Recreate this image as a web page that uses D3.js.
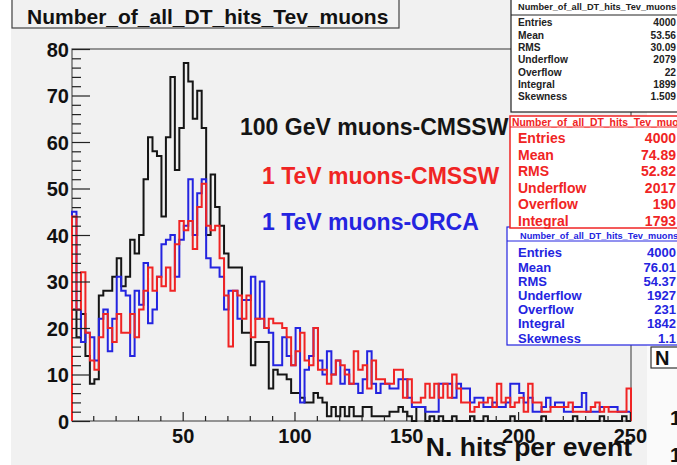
<!DOCTYPE html>
<html>
<head>
<meta charset="utf-8">
<script src="https://cdn.jsdelivr.net/npm/d3@7"></script>
<style>
  body { margin: 0; background: #fff; }
  svg { display: block; font-family: "Liberation Sans", Arial, sans-serif; font-weight: bold; }
</style>
</head>
<body>
<div id="app"></div>
<script>
// histogram: 125 bins of width 2 from 0.5 to 250.5
const binLow = 0.5;
const binWidth = 2;

const countsGeV = [
  24, 18, 23, 14, 8, 9, 27, 28, 28, 31, 35, 29, 31, 39, 36, 40,
  52, 61, 58, 57, 44, 61, 74, 54, 63, 77, 73, 65, 71, 63, 40, 53, 46, 42,
  36, 33, 33, 33, 19, 19, 12, 17, 17, 17, 7, 11, 10, 10, 9, 6, 6, 5, 4, 4, 6, 5, 4,
  1, 3, 1, 3, 1, 3, 1, 1, 3, 3, 1, 1, 1, 1, 2, 2, 3, 2, 1, 0, 3, 3,
  0, 1, 0, 1, 0, 0, 1, 0, 0, 0, 1, 0, 0, 1, 0, 0, 0, 0, 0, 1,
  0, 0, 0, 0, 0, 0, 1, 0, 0, 0, 0, 0, 0, 1, 0, 0, 0, 0, 0, 1,
  0, 0, 0, 0, 1, 0
];

const countsTeV = [
  44, 24, 32, 19, 13, 11, 18, 23, 20, 17, 23, 19, 19, 23, 18, 24, 28, 33,
  28, 31, 29, 33, 28, 38, 43, 41, 43, 37, 46, 51, 42, 41, 42, 35, 27, 16,
  28, 27, 22, 27, 18, 22, 22, 20, 22, 21, 21, 20, 18, 12, 15, 19, 13, 12, 20, 11,
  11, 8, 10, 13, 12, 10, 8, 15, 11, 12, 7, 13, 9, 9, 8, 8, 11, 11, 5, 9,
  4, 4, 5, 8, 5, 8, 5, 8,
  5, 10, 7, 4, 4, 2, 3, 4, 4, 5, 3, 8, 4, 5, 3, 4, 5, 2, 8, 4,
  4, 2, 2, 3, 3, 3, 3, 4, 2, 2, 2, 2, 3, 4, 2, 3, 2, 2, 2, 2, 7
];

const countsOrca = [
  45, 24, 17, 19, 18, 13, 22, 24, 15, 22, 31, 28, 27, 14, 28, 25, 34, 21,
  24, 31, 38, 39, 40, 31, 39, 42, 52, 40, 49, 52,
  35, 33, 33, 31, 24, 28, 28, 22, 26, 26, 31, 22, 30, 20, 19, 12, 12, 18, 14, 12, 20,
  4, 11, 14, 20, 13, 10, 15, 10, 13, 8, 11, 8, 8, 6, 9, 15, 8, 6, 8, 8,
  7, 7, 9, 9, 5, 3, 3, 3, 2, 2, 2, 8, 8,
  8, 5, 8, 7, 7, 4, 5, 5, 3, 3, 4, 3, 3, 4, 8, 8, 6, 4, 5, 2,
  2, 3, 5, 3, 4, 4, 2, 2, 3, 3, 6, 2, 2, 2, 3, 3, 3, 3, 2, 2, 2
];

const xMajorTicks = [50, 100, 150, 200, 250];
const yMajorTicks = [0, 10, 20, 30, 40, 50, 60, 70, 80];

const histTitle = "Number_of_all_DT_hits_Tev_muons";
const xTitle = "N. hits per event";
const legendLabels = ["100 GeV muons-CMSSW", "1 TeV muons-CMSSW", "1 TeV muons-ORCA"];

const statNames = ["Entries", "Mean", "RMS", "Underflow", "Overflow", "Integral", "Skewness"];
const statsGeV = ["4000", "53.56", "30.09", "2079", "22", "1899", "1.509"];
const statsTeV = ["4000", "74.89", "52.82", "2017", "190", "1793"];
const statsOrca = ["4000", "76.01", "54.37", "1927", "231", "1842", "1.1"];

const W = 677, H = 465;
const BLACK = "#151515", RED = "#f02424", BLUE = "#2424e0";

const svg = d3.select("#app").append("svg").attr("width", W).attr("height", H);

// canvas
svg.append("rect").attr("width", W).attr("height", H).attr("fill", "#fff");
svg.append("rect").attr("x", 11).attr("y", 0).attr("width", 636).attr("height", H).attr("fill", "#f1f1f1");

const x = d3.scaleLinear().domain([0.5, 250.5]).range([72, 631]);
const y = d3.scaleLinear().domain([0, 80]).range([421, 49]);

// frame
svg.append("rect")
  .attr("x", x(0.5)).attr("y", y(80))
  .attr("width", x(250.5) - x(0.5)).attr("height", y(0) - y(80))
  .attr("fill", "none").attr("stroke", "#555").attr("stroke-width", 1.2);

// histograms
const stepLine = d3.line().x((d) => x(d[0])).y((d) => y(d[1])).curve(d3.curveStepAfter);
const histPoints = (counts) => {
  const pts = [[binLow, 0]];
  counts.forEach((c, i) => pts.push([binLow + i * binWidth, c]));
  const hi = binLow + counts.length * binWidth;
  pts.push([hi, counts[counts.length - 1]]);
  pts.push([hi, 0]);
  return pts;
};

[[countsGeV, BLACK], [countsOrca, BLUE], [countsTeV, RED]].forEach(([c, col]) => {
  svg.append("path")
    .attr("d", stepLine(histPoints(c)))
    .attr("fill", "none")
    .attr("stroke", col)
    .attr("stroke-width", 2)
    .attr("stroke-linejoin", "miter");
});

// x axis
const xMinor = d3.range(10, 251, 10).filter((v) => v % 50 !== 0);
svg.append("g").attr("transform", `translate(0,${y(0)})`)
  .call(d3.axisBottom(x).tickValues(xMinor).tickSizeInner(-5).tickSizeOuter(0).tickFormat(""));
const xAxisG = svg.append("g").attr("transform", `translate(0,${y(0)})`)
  .call(d3.axisBottom(x).tickValues(xMajorTicks).tickSizeInner(-9).tickSizeOuter(0));
xAxisG.selectAll("text").attr("y", 22).attr("dy", null)
  .attr("font-size", 20).attr("font-family", "Liberation Sans, Arial").attr("font-weight", "bold").attr("fill", "#111");

// y axis
const yMinor = d3.range(2, 80, 2).filter((v) => v % 10 !== 0);
svg.append("g").attr("transform", `translate(${x(0.5)},0)`)
  .call(d3.axisLeft(y).tickValues(yMinor).tickSizeInner(-9).tickSizeOuter(0).tickFormat(""));
const yAxisG = svg.append("g").attr("transform", `translate(${x(0.5)},0)`)
  .call(d3.axisLeft(y).tickValues(yMajorTicks).tickSizeInner(-18).tickSizeOuter(0));
yAxisG.selectAll("text").attr("x", -3).attr("dy", "0.36em")
  .attr("font-size", 20).attr("font-family", "Liberation Sans, Arial").attr("font-weight", "bold").attr("fill", "#111");

svg.selectAll(".domain").remove();
svg.selectAll(".tick line").attr("stroke", "#222").attr("stroke-width", 1.2);

// legend labels
const legendPos = [[240, 135, BLACK], [262, 184, RED], [262, 230, BLUE]];
legendLabels.forEach((t, i) => {
  svg.append("text")
    .attr("x", legendPos[i][0]).attr("y", legendPos[i][1])
    .attr("font-size", 23).attr("fill", legendPos[i][2])
    .text(t);
});

// x title
svg.append("text").attr("x", 632).attr("y", 456).attr("text-anchor", "end")
  .attr("font-size", 26.5).attr("fill", "#111").text(xTitle);

// histogram title box
svg.append("rect").attr("x", 12).attr("y", -2).attr("width", 387).attr("height", 30)
  .attr("fill", "#f1f1f1").attr("stroke", "#444").attr("stroke-width", 1.2);
svg.append("text").attr("x", 27).attr("y", 24).attr("font-size", 21).attr("fill", "#111").text(histTitle);

// stats boxes
const statBox = (o) => {
  svg.append("rect").attr("x", o.x).attr("y", o.y).attr("width", 200).attr("height", o.h)
    .attr("fill", "#fff").attr("stroke", o.col).attr("stroke-width", o.sw);
  svg.append("text").attr("x", o.hx).attr("y", o.y + o.hb).attr("font-size", o.hs)
    .attr("fill", o.col).text(histTitle);
  svg.append("line").attr("x1", o.x).attr("x2", W).attr("y1", o.y + o.hl).attr("y2", o.y + o.hl)
    .attr("stroke", o.col).attr("stroke-width", 1);
  o.vals.forEach((v, i) => {
    const ry = o.r0 + i * o.dr;
    svg.append("text").attr("x", 518).attr("y", ry).attr("dy", "0.36em")
      .attr("font-size", o.fs).attr("fill", o.col).text(statNames[i]);
    svg.append("text").attr("x", 676).attr("y", ry).attr("dy", "0.36em").attr("text-anchor", "end")
      .attr("font-size", o.fs).attr("fill", o.col).text(v);
  });
};

statBox({ x: 511, y: -2, h: 114, col: "#222", sw: 1.2, hx: 518, hb: 12, hs: 9.2, hl: 17,
  r0: 22.7, dr: 12.3, fs: 10.2, vals: statsGeV });
statBox({ x: 507, y: 227, h: 118, col: BLUE, sw: 1.2, hx: 520, hb: 12, hs: 9.2, hl: 14,
  r0: 252.7, dr: 14.2, fs: 13, vals: statsOrca });
statBox({ x: 510, y: 116, h: 112, col: RED, sw: 1.5, hx: 512, hb: 9.5, hs: 10.4, hl: 11,
  r0: 138, dr: 16.6, fs: 14, vals: statsTeV });

// neighbouring pad peeking in at the right
svg.append("rect").attr("x", 647).attr("y", 346).attr("width", 30).attr("height", 119).attr("fill", "#fafafa");
svg.append("rect").attr("x", 651).attr("y", 347).attr("width", 40).attr("height", 21)
  .attr("fill", "#fff").attr("stroke", "#333").attr("stroke-width", 1.2);
svg.append("text").attr("x", 655).attr("y", 365).attr("font-size", 20).attr("fill", "#111").text("N");
svg.append("text").attr("x", 670).attr("y", 425).attr("font-size", 20).attr("fill", "#111").text("1");
svg.append("text").attr("x", 670).attr("y", 462).attr("font-size", 20).attr("fill", "#111").text("1");
</script>
</body>
</html>
